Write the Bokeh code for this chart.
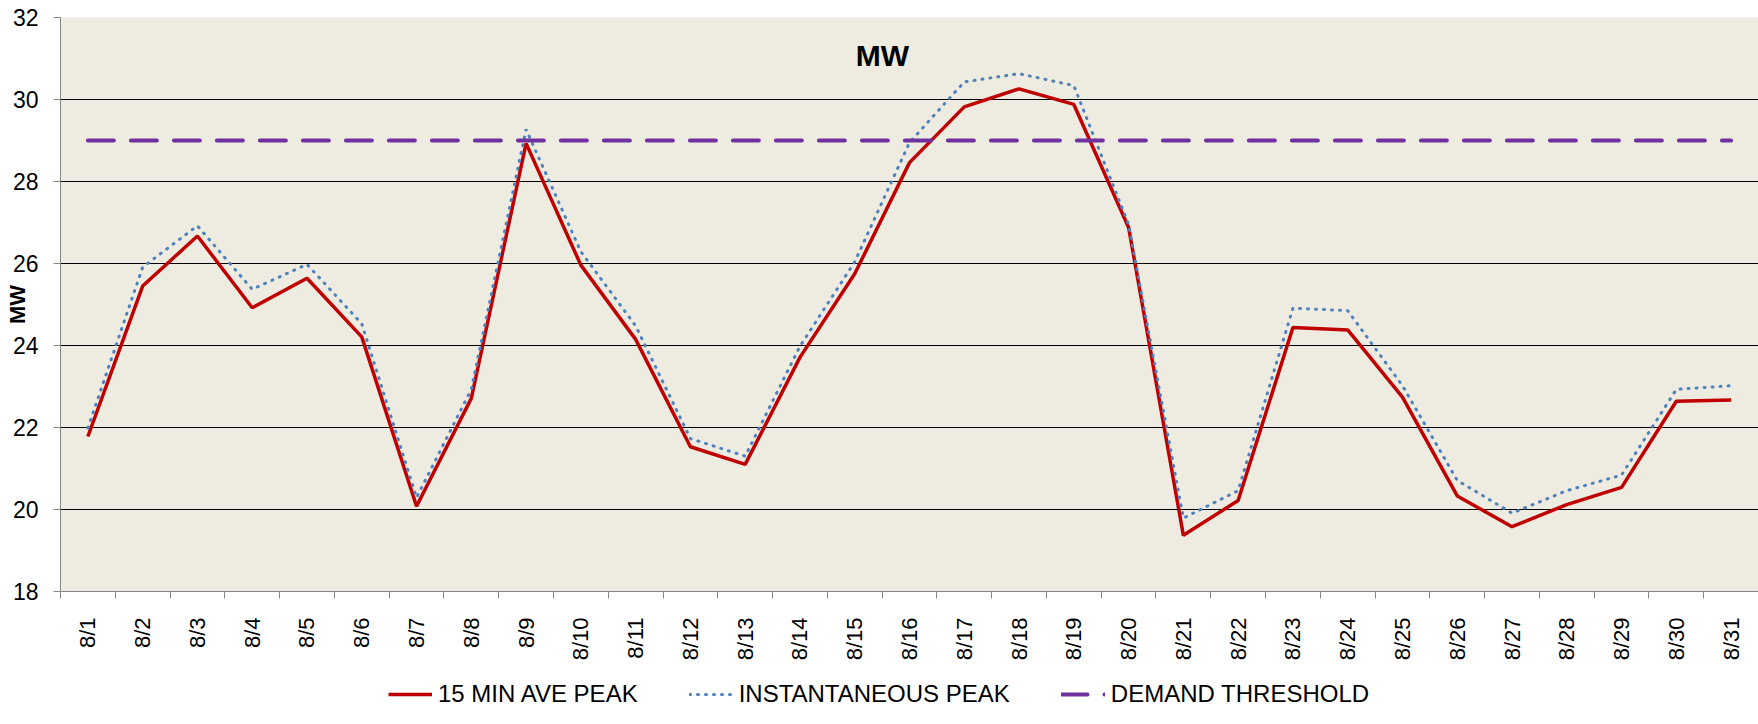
from math import pi
from bokeh.plotting import figure
from bokeh.layouts import column
from bokeh.models import ColumnDataSource, FixedTicker, Legend, LegendItem, Label, Range1d
from bokeh.embed import file_html
from bokeh.resources import INLINE

dates = ["8/1", "8/2", "8/3", "8/4", "8/5", "8/6", "8/7", "8/8", "8/9", "8/10",
         "8/11", "8/12", "8/13", "8/14", "8/15", "8/16", "8/17", "8/18", "8/19", "8/20",
         "8/21", "8/22", "8/23", "8/24", "8/25", "8/26", "8/27", "8/28", "8/29", "8/30", "8/31"]

ave_peak = [21.78, 25.45, 26.67, 24.92, 25.64, 24.21, 20.08, 22.71, 28.93, 25.96,
            24.15, 21.53, 21.10, 23.71, 25.75, 28.46, 29.82, 30.26, 29.88, 26.88,
            19.37, 20.22, 24.44, 24.38, 22.74, 20.33, 19.58, 20.12, 20.54, 22.64, 22.67]

inst_peak = [21.99, 25.91, 26.92, 25.37, 25.98, 24.53, 20.29, 22.93, 29.27, 26.29,
             24.48, 21.73, 21.30, 23.98, 26.04, 28.95, 30.43, 30.63, 30.34, 26.95,
             19.79, 20.46, 24.91, 24.85, 23.02, 20.71, 19.91, 20.46, 20.84, 22.93, 23.02]

threshold = [29, 29, 29, 29, 29, 29, 29, 29, 29, 29,
             29, 29, 29, 29, 29, 29, 29, 29, 29, 29,
             29, 29, 29, 29, 29, 29, 29, 29, 29, 29, 29]

y_ticks = [18, 20, 22, 24, 26, 28, 30, 32]

series_labels = ["15 MIN AVE PEAK", "INSTANTANEOUS PEAK", "DEMAND THRESHOLD"]

FONT = "Liberation Sans"
RED, BLUE, PURPLE = "#C00000", "#4F81BD", "#7030A0"

xs = list(range(1, len(dates) + 1))
src = ColumnDataSource(dict(x=xs, date=dates, ave=ave_peak, inst=inst_peak, thr=threshold))

W, H_MAIN, H_LEG = 1758, 664, 56
p = figure(width=W, height=H_MAIN, output_backend="svg", toolbar_location=None,
           x_range=Range1d(0.5, len(dates) + 0.5), y_range=Range1d(y_ticks[0], y_ticks[-1]),
           min_border_left=60, min_border_right=0, min_border_top=17,
           min_border_bottom=H_MAIN - 591)
p.background_fill_color = "#EEECE1"
p.border_fill_color = "white"
p.outline_line_color = None

# x axis: labels at category centres, tick marks at category boundaries
bounds = [i + 0.5 for i in range(0, len(dates) + 1)]
p.xaxis.ticker = FixedTicker(ticks=xs, minor_ticks=bounds)
p.xaxis.major_label_overrides = {x: d for x, d in zip(xs, dates)}
p.xaxis.major_tick_out = 0
p.xaxis.major_tick_in = 0
p.xaxis.minor_tick_out = 7
p.xaxis.minor_tick_in = 0
p.xaxis.minor_tick_line_color = "#868686"
p.xaxis.axis_line_color = "#868686"
p.xaxis.major_label_orientation = pi / 2
p.xaxis.major_label_standoff = 19
p.xaxis.major_label_text_font = FONT
p.xaxis.major_label_text_font_size = "22px"
p.xaxis.major_label_text_color = "black"

p.yaxis.ticker = FixedTicker(ticks=y_ticks, minor_ticks=[])
p.yaxis.major_tick_out = 7
p.yaxis.major_tick_in = 0
p.yaxis.minor_tick_line_color = None
p.yaxis.major_tick_line_color = "#868686"
p.yaxis.axis_line_color = "#868686"
p.yaxis.major_label_standoff = 15
p.yaxis.major_label_text_font = FONT
p.yaxis.major_label_text_font_size = "23px"
p.yaxis.major_label_text_color = "black"
p.yaxis.axis_label = "MW"
p.yaxis.axis_label_standoff = -20
p.yaxis.axis_label_text_font = FONT
p.yaxis.axis_label_text_font_style = "bold"
p.yaxis.axis_label_text_font_size = "22px"
p.yaxis.axis_label_text_color = "black"

p.xgrid.grid_line_color = None
p.ygrid.grid_line_color = "black"
p.ygrid.grid_line_width = 1

line_styles = [dict(line_color=RED, line_width=3.5),
               dict(line_color=BLUE, line_width=3, line_dash="1 7", line_cap="round"),
               dict(line_color=PURPLE, line_width=4, line_dash="26 17", line_cap="round")]
cols = ["ave", "inst", "thr"]

for c, st in zip(cols, line_styles):
    p.line("x", c, source=src, **st)

p.add_layout(Label(x=822, y=536, x_units="screen", y_units="screen", text="MW",
                   text_font=FONT, text_font_style="bold", text_font_size="30px",
                   text_align="center", text_baseline="middle", text_color="black"))

# legend strip below the chart (same series, view ranges keep the lines off-screen)
lg = figure(width=W, height=H_LEG, output_backend="svg", toolbar_location=None,
            x_axis_type=None, y_axis_type=None,
            x_range=Range1d(100, 101), y_range=Range1d(100, 101),
            min_border_left=0, min_border_right=0, min_border_top=0, min_border_bottom=0)
lg.outline_line_color = None
lg.background_fill_color = "white"
lg.border_fill_color = "white"
lg.xgrid.grid_line_color = None
lg.ygrid.grid_line_color = None

items = []
for c, st, lab in zip(cols, line_styles, series_labels):
    r = lg.line("x", c, source=src, **st)
    items.append(LegendItem(label=lab, renderers=[r]))

legend = Legend(items=items, orientation="horizontal", location=(328, 12),
                glyph_width=44, glyph_height=24, label_height=24, label_standoff=6,
                spacing=51, padding=0, margin=0, border_line_color=None,
                background_fill_alpha=0, label_text_font=FONT, label_text_font_size="24px",
                label_text_color="black")
lg.add_layout(legend)

layout = column(p, lg, spacing=0)
open("out.html", "w").write(file_html(layout, INLINE))
